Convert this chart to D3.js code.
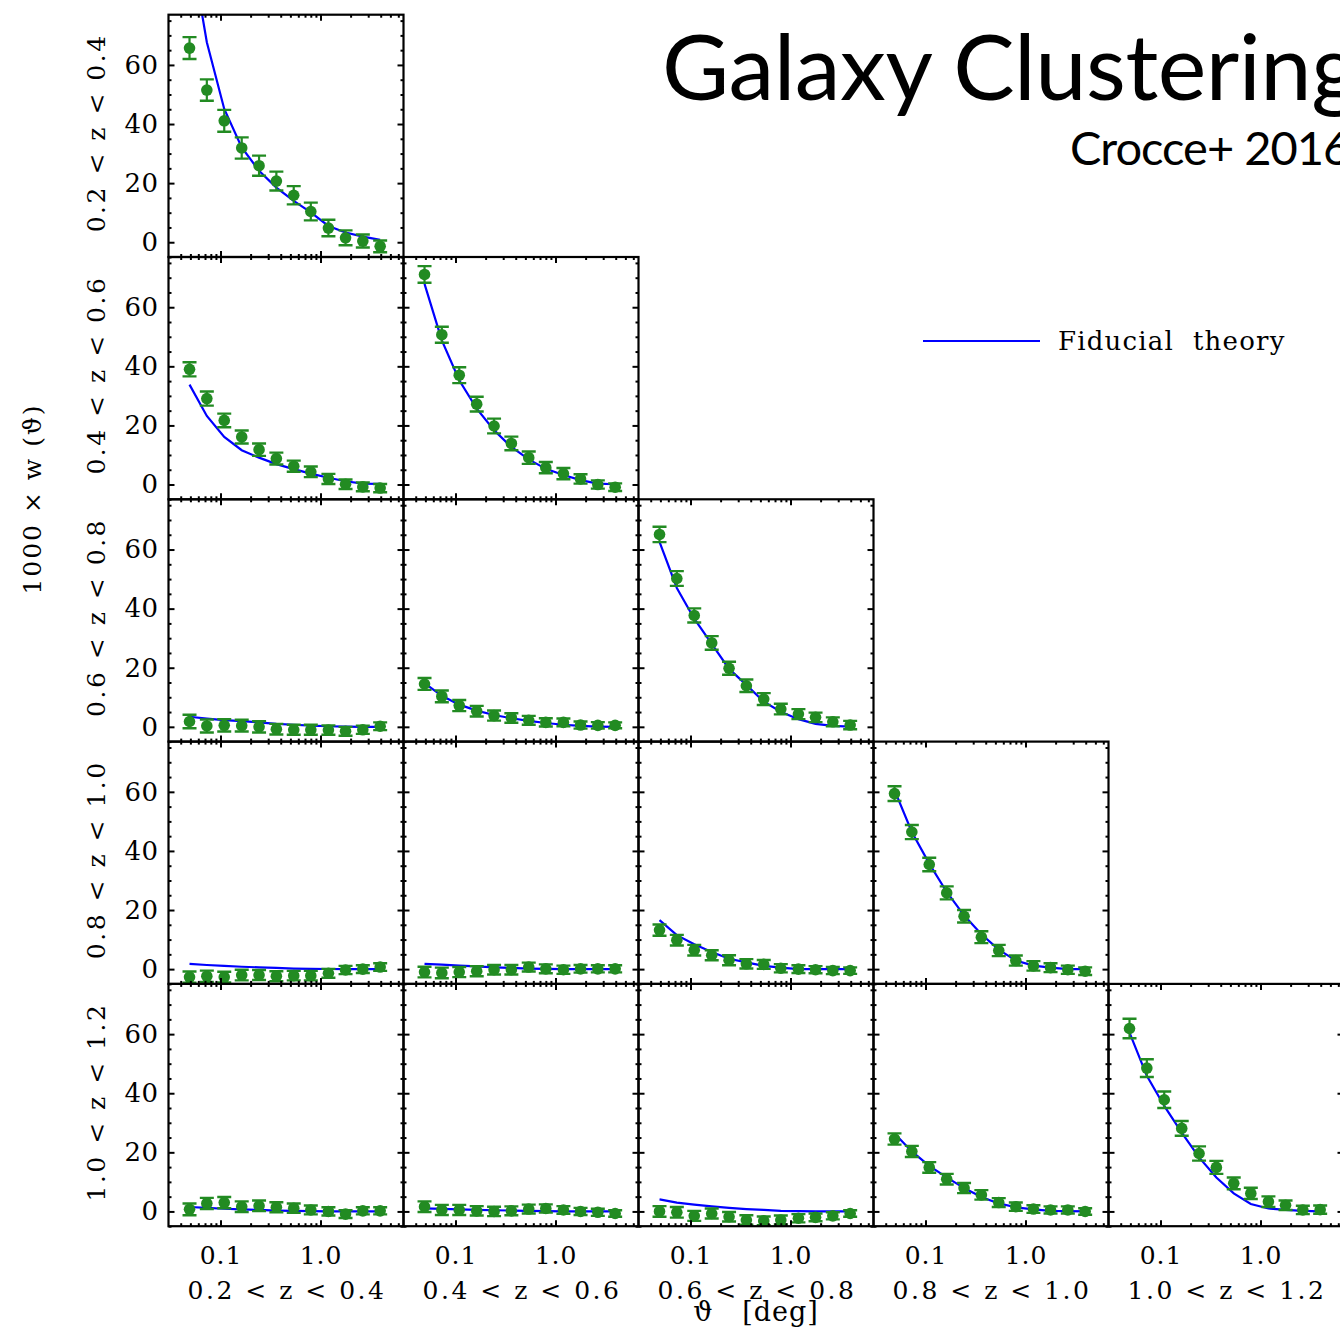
<!DOCTYPE html>
<html>
<head>
<meta charset="utf-8">
<script src="https://cdn.jsdelivr.net/npm/d3@7"></script>
<style>
  html, body { margin: 0; padding: 0; background: #fff; }
  svg { display: block; }
  .lab { font-family: "DejaVu Serif", serif; fill: #000; }
</style>
</head>
<body>
<svg id="chart" width="1340" height="1330"></svg>
<script>
// Angular bin centres [deg]
const theta = [0.049, 0.073, 0.109, 0.163, 0.243, 0.362, 0.54, 0.80, 1.20, 1.78, 2.65, 3.95];

// Redshift bins
const zBins = ["0.2 < z < 0.4", "0.4 < z < 0.6", "0.6 < z < 0.8", "0.8 < z < 1.0", "1.0 < z < 1.2"];

// Axis ticks
const yMajor = [0, 20, 40, 60];
const yMinor = [-5, 5, 10, 15, 25, 30, 35, 45, 50, 55, 65, 70, 75];
const xMajor = [0.1, 1.0];
const xMinor = [0.04, 0.05, 0.06, 0.07, 0.08, 0.09, 0.2, 0.3, 0.4, 0.5, 0.6, 0.7, 0.8, 0.9, 2, 3, 4, 5, 6];
const xTickLabels = ["0.1", "1.0"];

// 1000 x w(theta): measured (obs), 1-sigma errors (err), fiducial model (fid)
// bin pair (i, j) -> wIJ
const obs00 = [65.7, 51.5, 41.1, 31.9, 25.9, 20.7, 15.9, 10.4, 4.8, 1.5, 0.4, -1.4];
const err00 = [3.7, 3.6, 3.7, 3.6, 3.4, 3.2, 3.1, 3.0, 2.8, 2.5, 2.2, 2.0];
const fid00 = [102, 67.7, 45.1, 32.1, 24.2, 18.5, 14.0, 10.1, 5.5, 3.3, 1.9, 0.8];

const obs10 = [39.0, 29.1, 21.7, 16.1, 11.8, 8.8, 6.2, 4.3, 1.9, 0.1, -0.8, -1.2];
const err10 = [2.4, 2.4, 2.3, 2.2, 2.1, 2.0, 1.9, 1.8, 1.7, 1.6, 1.5, 1.4];
const fid10 = [33.8, 23.2, 16.1, 11.6, 9.1, 6.9, 5.2, 3.7, 2.3, 1.1, 0.3, 0.2];

const obs11 = [71.1, 50.7, 37.0, 27.2, 19.8, 13.9, 9.1, 5.7, 3.7, 1.9, 0.0, -0.9];
const err11 = [2.8, 2.7, 2.7, 2.5, 2.5, 2.3, 2.1, 1.9, 1.9, 1.6, 1.4, 1.3];
const fid11 = [67.9, 48.8, 35.3, 25.7, 18.4, 12.7, 8.5, 5.3, 3.2, 1.5, 0.3, 0.1];

const obs20 = [1.8, 0.3, 0.5, 0.4, 0.0, -0.8, -1.0, -1.0, -1.1, -1.5, -1.0, 0.2];
const err20 = [2.3, 2.2, 2.1, 2.0, 1.9, 1.8, 1.7, 1.7, 1.6, 1.5, 1.4, 1.3];
const fid20 = [3.4, 2.8, 2.3, 1.9, 1.5, 1.0, 0.7, 0.4, 0.2, 0.1, 0.0, 0.0];

const obs21 = [14.5, 10.3, 7.2, 5.3, 3.8, 3.0, 2.2, 1.5, 1.5, 0.6, 0.5, 0.5];
const err21 = [2.0, 2.0, 1.9, 1.8, 1.7, 1.6, 1.5, 1.4, 1.3, 1.2, 1.1, 1.0];
const fid21 = [14.8, 10.5, 7.5, 5.5, 4.0, 2.9, 2.0, 1.3, 0.7, 0.3, 0.1, 0.0];

const obs22 = [65.1, 50.2, 37.7, 28.4, 19.8, 13.9, 9.4, 6.0, 4.3, 3.2, 1.7, 0.6];
const err22 = [2.6, 2.5, 2.4, 2.3, 2.2, 2.1, 2.0, 1.8, 1.7, 1.6, 1.5, 1.4];
const fid22 = [62.6, 47.0, 36.6, 28.1, 19.6, 14.2, 8.5, 5.1, 2.6, 1.0, 0.3, 0.1];

const obs30 = [-2.7, -2.4, -2.7, -2.0, -2.0, -2.4, -2.2, -2.2, -1.4, -0.3, 0.0, 0.7];
const err30 = [1.9, 1.9, 1.8, 1.8, 1.7, 1.7, 1.6, 1.6, 1.5, 1.4, 1.3, 1.3];
const fid30 = [1.8, 1.4, 1.1, 0.8, 0.6, 0.4, 0.2, 0.1, 0.05, 0.0, 0.0, 0.0];

const obs31 = [-1.0, -1.3, -1.0, -0.7, -0.2, -0.2, 0.7, 0.1, -0.2, 0.1, 0.1, 0.1];
const err31 = [1.8, 1.8, 1.7, 1.7, 1.6, 1.6, 1.5, 1.5, 1.4, 1.3, 1.2, 1.2];
const fid31 = [1.8, 1.5, 1.2, 0.9, 0.6, 0.4, 0.2, 0.1, 0.0, 0.0, 0.0, 0.0];

const obs32 = [13.2, 9.8, 6.4, 4.7, 3.0, 1.8, 1.6, 0.3, 0.0, -0.2, -0.5, -0.5];
const err32 = [1.9, 1.8, 1.8, 1.7, 1.7, 1.6, 1.5, 1.4, 1.3, 1.2, 1.2, 1.1];
const fid32 = [16.6, 11.5, 8.4, 5.8, 3.5, 2.3, 1.1, 0.5, 0.0, 0.0, 0.0, 0.0];

const obs33 = [59.4, 46.4, 35.4, 25.8, 17.9, 10.8, 6.3, 2.9, 1.1, 0.5, -0.2, -0.7];
const err33 = [2.5, 2.4, 2.3, 2.2, 2.1, 2.0, 1.9, 1.7, 1.6, 1.5, 1.4, 1.3];
const fid33 = [60.6, 46.4, 35.7, 26.1, 18.2, 11.8, 6.6, 2.9, 1.2, 0.5, 0.0, 0.0];

const obs40 = [0.7, 2.7, 3.0, 1.6, 1.9, 1.4, 1.1, 0.5, 0.0, -0.9, 0.2, 0.2];
const err40 = [2.0, 1.9, 1.9, 1.8, 1.8, 1.7, 1.6, 1.5, 1.4, 1.3, 1.2, 1.2];
const fid40 = [1.5, 1.2, 0.9, 0.7, 0.5, 0.3, 0.2, 0.1, 0.05, 0.0, 0.0, 0.0];

const obs41 = [1.6, 0.5, 0.5, 0.2, 0.0, 0.2, 0.8, 1.0, 0.5, 0.0, -0.3, -0.7];
const err41 = [1.8, 1.7, 1.7, 1.6, 1.6, 1.5, 1.5, 1.4, 1.3, 1.2, 1.2, 1.1];
const fid41 = [1.0, 0.85, 0.7, 0.55, 0.4, 0.3, 0.2, 0.1, 0.05, 0.0, 0.0, 0.0];

const obs42 = [0.0, -0.3, -1.5, -0.7, -1.8, -2.9, -3.2, -2.9, -2.3, -2.0, -1.5, -0.7];
const err42 = [1.8, 1.8, 1.7, 1.7, 1.6, 1.6, 1.5, 1.5, 1.4, 1.3, 1.2, 1.1];
const fid42 = [4.1, 3.0, 2.3, 1.7, 1.2, 0.8, 0.5, 0.2, 0.1, 0.0, 0.0, 0.0];

const obs43 = [24.5, 20.3, 14.9, 10.9, 7.9, 5.6, 3.0, 1.6, 0.8, 0.5, 0.5, 0.0];
const err43 = [1.9, 1.9, 1.8, 1.8, 1.7, 1.6, 1.5, 1.4, 1.3, 1.2, 1.2, 1.1];
const fid43 = [26.4, 20.3, 15.4, 11.5, 7.9, 4.9, 2.7, 1.4, 0.7, 0.2, 0.1, 0.0];

const obs44 = [61.9, 48.5, 37.8, 28.1, 19.6, 14.9, 9.5, 6.1, 3.3, 2.1, 0.5, 0.6];
const err44 = [3.3, 3.0, 2.8, 2.5, 2.4, 2.2, 2.0, 1.9, 1.8, 1.6, 1.4, 1.4];
const fid44 = [60.5, 45.9, 35.7, 26.7, 18.3, 11.5, 6.1, 2.5, 1.0, 0.5, 0.2, 0.0];

const panels = [
  [0, 0, obs00, err00, fid00],
  [1, 0, obs10, err10, fid10], [1, 1, obs11, err11, fid11],
  [2, 0, obs20, err20, fid20], [2, 1, obs21, err21, fid21], [2, 2, obs22, err22, fid22],
  [3, 0, obs30, err30, fid30], [3, 1, obs31, err31, fid31], [3, 2, obs32, err32, fid32], [3, 3, obs33, err33, fid33],
  [4, 0, obs40, err40, fid40], [4, 1, obs41, err41, fid41], [4, 2, obs42, err42, fid42], [4, 3, obs43, err43, fid43], [4, 4, obs44, err44, fid44]
];

// Layout
const left0 = 168.5, top0 = 14.7, pw = 235, ph = 242.3;
const GREEN = "#228b22", BLUE = "#0000ff";

const svg = d3.select("#chart");

const x = d3.scaleLog().domain([Math.pow(10, -1.52), Math.pow(10, 0.83)]).range([0, pw]);
const y = d3.scaleLinear().domain([-5, 77]).range([ph, 0]);

const line = d3.line().x((d, i) => x(theta[i])).y(d => y(d));

panels.forEach(([r, c, obs, err, fid]) => {
  const g = svg.append("g").attr("transform", `translate(${left0 + c * pw},${top0 + r * ph})`);
  const cid = `clip${r}${c}`;
  g.append("clipPath").attr("id", cid).append("rect").attr("width", pw).attr("height", ph);

  // theory curve
  g.append("path").datum(fid).attr("d", line)
    .attr("fill", "none").attr("stroke", BLUE).attr("stroke-width", 2.2)
    .attr("clip-path", `url(#${cid})`);

  // error bars + points
  const pts = g.append("g").attr("clip-path", `url(#${cid})`);
  obs.forEach((v, i) => {
    const px = x(theta[i]);
    const y1 = y(v + err[i]), y2 = y(v - err[i]);
    pts.append("line").attr("x1", px).attr("x2", px).attr("y1", y1).attr("y2", y2)
      .attr("stroke", GREEN).attr("stroke-width", 2.2);
    [y1, y2].forEach(yy => pts.append("line").attr("x1", px - 7).attr("x2", px + 7)
      .attr("y1", yy).attr("y2", yy).attr("stroke", GREEN).attr("stroke-width", 2.4));
    pts.append("circle").attr("cx", px).attr("cy", y(v)).attr("r", 5.8).attr("fill", GREEN);
  });

  // ticks on all four sides, pointing inward
  const addAxis = (gen, tx, ty) => {
    const a = g.append("g").attr("transform", `translate(${tx},${ty})`).call(gen);
    a.select(".domain").remove();
    a.selectAll(".tick line").attr("stroke", "#000").attr("stroke-width", 2);
    return a;
  };
  addAxis(d3.axisLeft(y).tickValues(yMajor).tickSize(-6).tickFormat(""), 0, 0);
  addAxis(d3.axisLeft(y).tickValues(yMinor).tickSize(-3).tickFormat(""), 0, 0);
  addAxis(d3.axisRight(y).tickValues(yMajor).tickSize(-6).tickFormat(""), pw, 0);
  addAxis(d3.axisRight(y).tickValues(yMinor).tickSize(-3).tickFormat(""), pw, 0);
  addAxis(d3.axisBottom(x).tickValues(xMajor).tickSize(-6).tickFormat(""), 0, ph);
  addAxis(d3.axisBottom(x).tickValues(xMinor).tickSize(-3).tickFormat(""), 0, ph);
  addAxis(d3.axisTop(x).tickValues(xMajor).tickSize(-6).tickFormat(""), 0, 0);
  addAxis(d3.axisTop(x).tickValues(xMinor).tickSize(-3).tickFormat(""), 0, 0);

  // frame
  g.append("rect").attr("width", pw).attr("height", ph)
    .attr("fill", "none").attr("stroke", "#000").attr("stroke-width", 2.2);

  // y tick labels on the first column
  if (c === 0) {
    const a = g.append("g").call(d3.axisLeft(y).tickValues(yMajor).tickSize(0).tickPadding(10));
    a.select(".domain").remove();
    a.selectAll("text").style("font-size", "26px").attr("fill", "#000")
      .style("font-family", "DejaVu Serif, serif").style("letter-spacing", "0.5px");
    g.append("text").attr("class", "lab")
      .attr("transform", `translate(-64,${ph / 2 - 3}) rotate(-90)`)
      .attr("text-anchor", "middle").style("font-size", "25px").style("letter-spacing", "2.5px")
      .text(zBins[r]);
  }
  // x tick labels and bin label on the last row
  if (r === 4) {
    const a = g.append("g").attr("transform", `translate(0,${ph})`)
      .call(d3.axisBottom(x).tickValues(xMajor).tickSize(0).tickPadding(20)
        .tickFormat((d, i) => xTickLabels[i]));
    a.select(".domain").remove();
    a.selectAll("text").style("font-size", "25px").attr("fill", "#000")
      .style("font-family", "DejaVu Serif, serif").style("letter-spacing", "1px");
    g.append("text").attr("class", "lab")
      .attr("x", pw / 2 + 1).attr("y", ph + 73)
      .attr("text-anchor", "middle").style("font-size", "25px").style("letter-spacing", "2.5px")
      .text(zBins[c]);
  }
});

// axis titles
svg.append("text").attr("class", "lab")
  .attr("transform", "translate(41,499) rotate(-90)")
  .attr("text-anchor", "middle").style("font-size", "25px").style("letter-spacing", "2px")
  .text("1000 × w (ϑ)");
svg.append("text").attr("class", "lab")
  .attr("x", 756).attr("y", 1321).attr("text-anchor", "middle").style("font-size", "27px")
  .style("white-space", "pre").style("letter-spacing", "1px").text("ϑ   [deg]");

// legend
svg.append("line").attr("x1", 923).attr("x2", 1040).attr("y1", 341).attr("y2", 341)
  .attr("stroke", BLUE).attr("stroke-width", 2.2);
svg.append("text").attr("class", "lab").attr("x", 1058).attr("y", 350)
  .style("font-size", "26px").style("letter-spacing", "1.2px").style("white-space", "pre")
  .text("Fiducial  theory");

// title
svg.append("text").attr("x", 662).attr("y", 100)
  .style("font-family", "Lato, sans-serif").style("font-size", "92px").attr("fill", "#000")
  .style("letter-spacing", "-0.5px")
  .text("Galaxy Clustering");
svg.append("text").attr("x", 1070).attr("y", 165)
  .style("font-family", "Lato, sans-serif").style("font-size", "47px").attr("fill", "#000")
  .style("letter-spacing", "-1px")
  .text("Crocce+ 2016");
</script>
</body>
</html>
